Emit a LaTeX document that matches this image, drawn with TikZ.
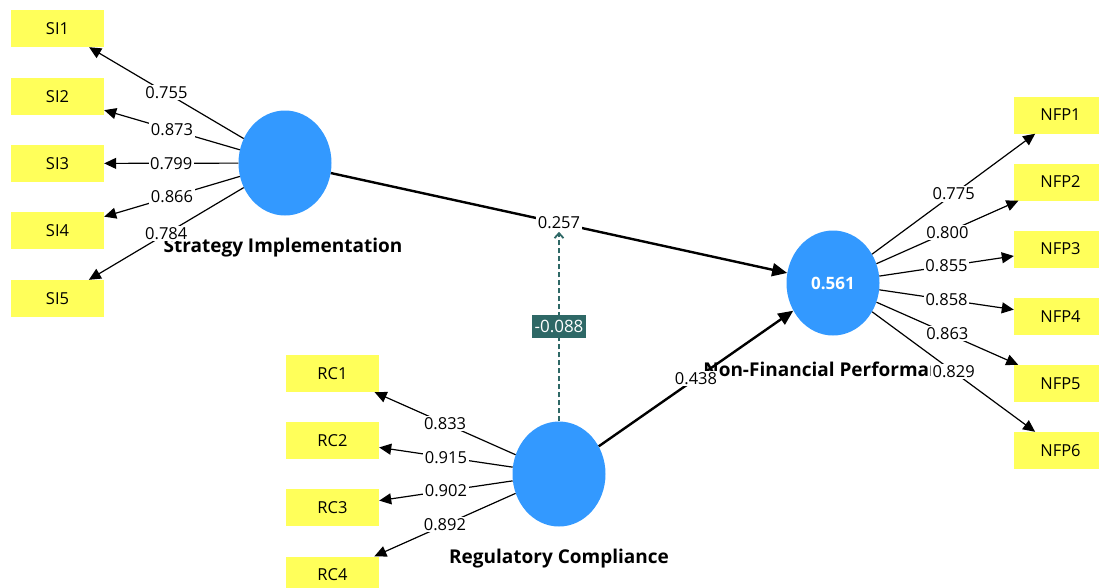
\documentclass[tikz,border=0pt]{standalone}
\usepackage{fontspec}
\setmainfont{Open Sans}
\usetikzlibrary{arrows.meta,shapes.geometric}

\definecolor{itemyellow}{RGB}{255,255,90}
\definecolor{lvblue}{RGB}{51,153,255}
\definecolor{modteal}{RGB}{46,104,102}

\begin{document}
\begin{tikzpicture}[x=1pt,y=-1pt,
  item/.style={fill=itemyellow, minimum width=93pt, minimum height=37pt, inner sep=0pt, font=\fontsize{16.5}{19}\selectfont},
  lv/.style={ellipse, fill=lvblue, minimum width=93pt, minimum height=105pt, inner sep=0pt, text=white, font=\fontsize{17}{19}\selectfont\bfseries},
  lvname/.style={font=\fontsize{19}{22}\selectfont\bfseries},
  coef/.style={fill=white, inner sep=1.5pt, font=\fontsize{16.5}{19}\selectfont},
  load/.style={-{Triangle[length=12pt,width=11pt]}, line width=1.2pt},
  struct/.style={-{Triangle[length=15pt,width=13pt]}, line width=2.4pt},
  moder/.style={-{Straight Barb[length=5pt,width=9pt]}, modteal, line width=1.8pt, dash pattern=on 5pt off 3pt},
  modlbl/.style={fill=modteal, text=white, inner xsep=3pt, inner ysep=5pt, font=\fontsize{17}{19}\selectfont}]
\useasboundingbox (0,0) rectangle (1099,587);

% indicators
\foreach \i/\y in {1/28.5,2/96.5,3/163.5,4/230.5,5/298.5}
  \node[item] (si\i) at (57.5,\y) {SI\i};
\foreach \i/\y in {1/373.5,2/440.5,3/507.5,4/575}
  \node[item] (rc\i) at (332.5,\y) {RC\i};
\foreach \i/\y in {1/115,2/182,3/249,4/316.5,5/383.5,6/450.5}
  \node[item] (nfp\i) at (1060.5,\y) {NFP\i};

% latent variables
\node[lv] (si) at (285,163) {};
\node[lv] (rc) at (559,474) {};
\node[lv] (nfp) at (833,283) {0.561};

\node[lvname] (siname) at (283,248) {Strategy Implementation};
\node[lvname] (rcname) at (559,559) {Regulatory Compliance};
\node[lvname] (nfpname) at (833,369) {Non-Financial Performance};

% outer loadings
\foreach \i/\v in {1/0.755,2/0.873,3/0.799,4/0.866,5/0.784}
  \draw[load] (si) -- node[coef] {\v} (si\i);
\foreach \i/\v in {1/0.833,2/0.915,3/0.902,4/0.892}
  \draw[load] (rc) -- node[coef] {\v} (rc\i);
\foreach \i/\v in {1/0.775,2/0.800,3/0.855,4/0.858,5/0.863,6/0.829}
  \draw[load] (nfp) -- node[coef] {\v} (nfp\i);

% path coefficients
\draw[struct] (si) -- node[coef] (b1) {0.257} (nfp);
\draw[struct] (rc) -- node[coef] (b2) {0.438} (nfp);
\draw[moder] (rc) -- node[modlbl, solid] (b3) {-0.088} (b1);

\end{tikzpicture}
\end{document}
